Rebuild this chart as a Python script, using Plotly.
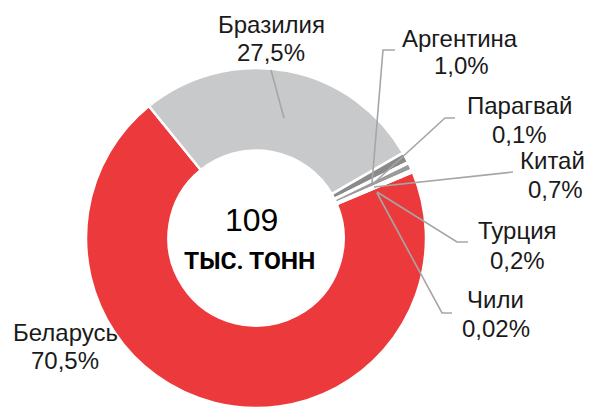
import plotly.graph_objects as go

W, H = 591, 408

countries = ["Беларусь", "Бразилия", "Аргентина", "Парагвай", "Китай", "Турция", "Чили"]
shares = [70.5, 27.5, 1.0, 0.1, 0.7, 0.2, 0.02]
share_labels = ["70,5%", "27,5%", "1,0%", "0,1%", "0,7%", "0,2%", "0,02%"]
colors = ["#EC3A3C", "#C8C9CB", "#8A8A8A", "#6F6F6F", "#9A9A9A", "#7A7A7A", "#555555"]
total_value = "109"
total_unit = "ТЫС. ТОНН"

# (name x, name y, value x, value y) in pixels: centre of each text line
label_pos = {
    "Беларусь": (65, 330.5, 65, 358.5),
    "Бразилия": (271, 23, 271, 51.5),
    "Аргентина": (460.5, 36.5, 461.5, 64.5),
    "Парагвай": (519.5, 104.5, 519.5, 133.5),
    "Китай": (552.5, 159.5, 555, 187.5),
    "Турция": (517.5, 228.5, 517.5, 258.5),
    "Чили": (495, 297.5, 496, 326.5),
}
leaders = {
    "Бразилия": [(271, 70), (284, 118)],
    "Аргентина": [(395, 50), (383, 50), (372, 183)],
    "Парагвай": [(455, 118), (445, 118), (374, 183)],
    "Китай": [(513, 172), (374, 187)],
    "Турция": [(468, 242), (457, 242), (377, 192)],
    "Чили": [(452, 313), (442, 313), (377, 193)],
}

cx, cy, R = 256, 238, 170


def px(x):
    return x / W


def py(y):
    return 1 - y / H


fig = go.Figure()
fig.add_trace(go.Pie(
    labels=countries,
    values=shares,
    sort=False,
    direction="clockwise",
    rotation=67.2,
    hole=0.515,
    marker=dict(colors=colors, line=dict(color="white", width=2.5)),
    textinfo="none",
    hoverinfo="label+percent",
    showlegend=False,
    domain=dict(x=[px(cx - R), px(cx + R)], y=[py(cy + R), py(cy - R)]),
))

font_family = "Liberation Sans, Arial, sans-serif"
OFF = 1.5
annotations = []
for name, lab in zip(countries, share_labels):
    nx, ny, vx, vy = label_pos[name]
    for txt, x, y in ((name, nx, ny), (lab, vx, vy)):
        annotations.append(dict(
            x=px(x), y=py(y + OFF), xref="paper", yref="paper",
            text=txt, showarrow=False,
            xanchor="center", yanchor="middle", align="center",
            font=dict(family=font_family, size=24, color="#1a1a1a"),
        ))
annotations.append(dict(
    x=px(251), y=py(219.5), xref="paper", yref="paper", text=total_value,
    showarrow=False, xanchor="center", yanchor="middle",
    font=dict(family=font_family, size=32, color="#000000"),
))
annotations.append(dict(
    x=px(249.5), y=py(260), xref="paper", yref="paper", text=f"<b>{total_unit}</b>",
    showarrow=False, xanchor="center", yanchor="middle",
    font=dict(family="Roboto, sans-serif", size=24.5, color="#000000"),
))

shapes = []
for name, pts in leaders.items():
    path = "M " + " L ".join(f"{px(a):.5f},{py(b):.5f}" for a, b in pts)
    shapes.append(dict(type="path", path=path, xref="paper", yref="paper",
                       line=dict(color="#A6A6A6", width=1.6)))

fig.update_layout(
    width=W, height=H,
    margin=dict(l=0, r=0, t=0, b=0),
    paper_bgcolor="white", plot_bgcolor="white",
    annotations=annotations,
    shapes=shapes,
)

fig.write_html("out.html", config={"displayModeBar": False},
               post_script="document.body.style.margin='0';")
